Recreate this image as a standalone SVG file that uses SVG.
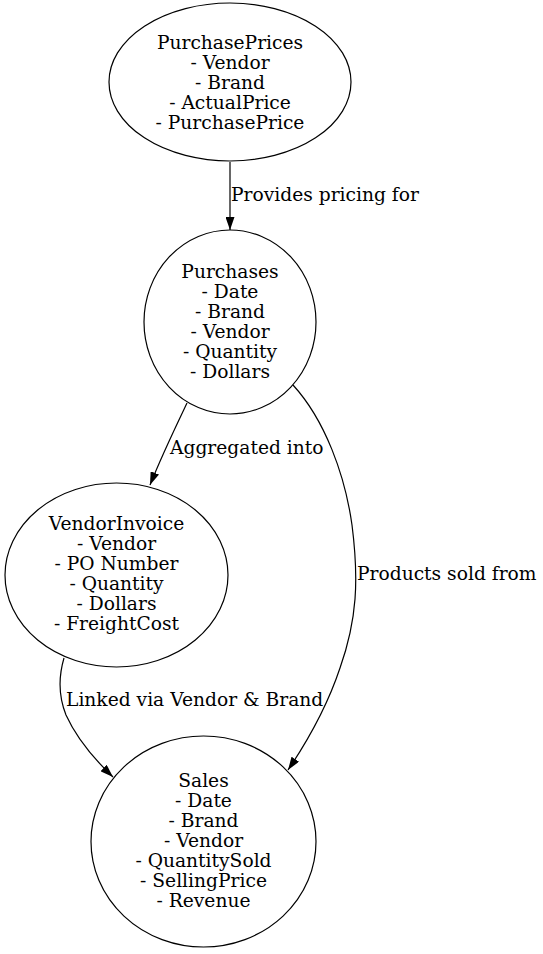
<svg xmlns="http://www.w3.org/2000/svg" width="543" height="954" viewBox="0 0 543 954">
<style>
.node ellipse{fill:none;stroke:#000;stroke-width:1.2}
text{font-family:"DejaVu Serif","Liberation Serif",serif;font-size:18.67px;fill:#000}
.node text{text-anchor:middle}
.edge path{fill:none;stroke:#000;stroke-width:1.2}
</style>
<defs>
<marker id="arr" viewBox="0 0 13 9" refX="13" refY="4.5" markerWidth="13" markerHeight="9" orient="auto" markerUnits="userSpaceOnUse">
<path d="M0,0 L13,4.5 L0,9 Z" fill="#000"/>
</marker>
</defs>
<rect width="543" height="954" fill="#fff"/>
<g id="edges">
<g class="edge" id="e1"><path d="M230,162 L230,230" marker-end="url(#arr)"/><text x="231" y="201">Provides pricing for</text></g>
<g class="edge" id="e2"><path d="M187,403 C177,424 162,455 150,485" marker-end="url(#arr)"/><text x="170" y="454">Aggregated into</text></g>
<g class="edge" id="e3"><path d="M293,385 C325,420 345,475 352,525 C359,580 357,620 340,668 C330,698 315,730 288,770" marker-end="url(#arr)"/><text x="357" y="580">Products sold from</text></g>
<g class="edge" id="e4"><path d="M64,658 C59,675 58,695 66,715 C76,737 92,757 113,777" marker-end="url(#arr)"/><text x="66" y="706">Linked via Vendor &amp; Brand</text></g>
</g>
<g class="node" id="PurchasePrices">
<ellipse cx="230" cy="82" rx="121" ry="79"/>
<text x="230" y="49">PurchasePrices</text>
<text x="230" y="69">- Vendor</text>
<text x="230" y="89">- Brand</text>
<text x="230" y="109">- ActualPrice</text>
<text x="230" y="129">- PurchasePrice</text>
</g>
<g class="node" id="Purchases">
<ellipse cx="230" cy="322" rx="86" ry="92"/>
<text x="230" y="278">Purchases</text>
<text x="230" y="298">- Date</text>
<text x="230" y="318">- Brand</text>
<text x="230" y="338">- Vendor</text>
<text x="230" y="358">- Quantity</text>
<text x="230" y="378">- Dollars</text>
</g>
<g class="node" id="VendorInvoice">
<ellipse cx="116.5" cy="575" rx="111.5" ry="92"/>
<text x="116.5" y="530">VendorInvoice</text>
<text x="116.5" y="550">- Vendor</text>
<text x="116.5" y="570">- PO Number</text>
<text x="116.5" y="590">- Quantity</text>
<text x="116.5" y="610">- Dollars</text>
<text x="116.5" y="630">- FreightCost</text>
</g>
<g class="node" id="Sales">
<ellipse cx="203.5" cy="841.5" rx="112.5" ry="105.5"/>
<text x="203.5" y="787">Sales</text>
<text x="203.5" y="807">- Date</text>
<text x="203.5" y="827">- Brand</text>
<text x="203.5" y="847">- Vendor</text>
<text x="203.5" y="867">- QuantitySold</text>
<text x="203.5" y="887">- SellingPrice</text>
<text x="203.5" y="907">- Revenue</text>
</g>
</svg>
